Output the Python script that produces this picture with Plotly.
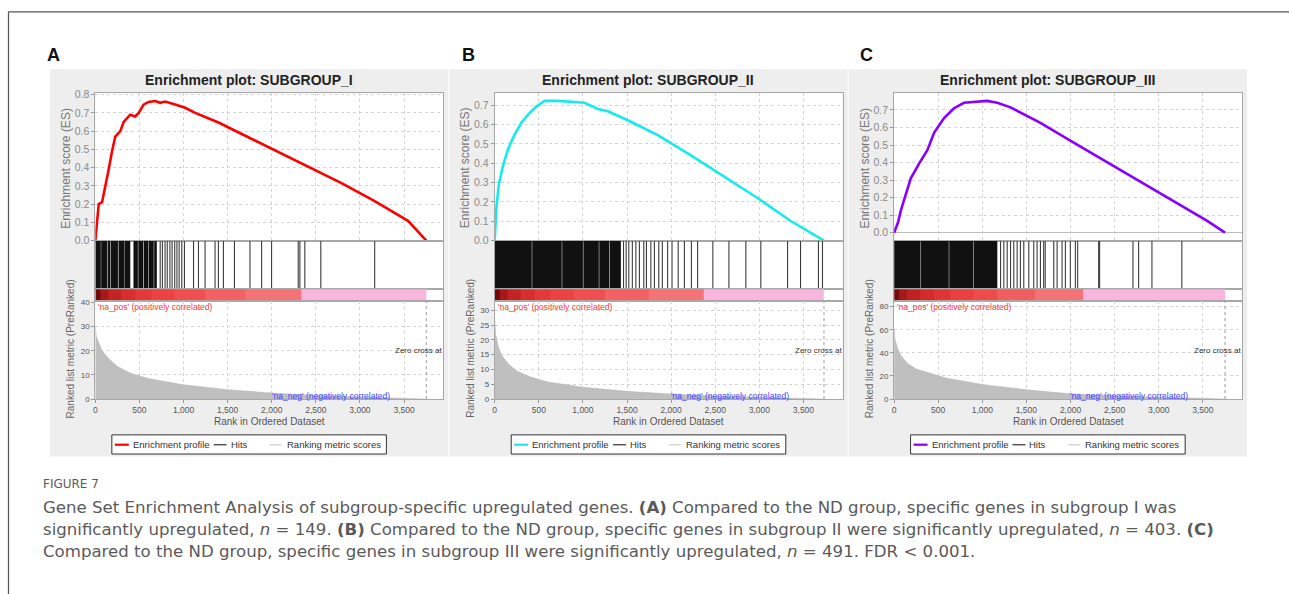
import plotly.graph_objects as go

W, H = 1289, 594

# ---------------- data ----------------
panel_letters = ["A", "B", "C"]
panel_titles = ["Enrichment plot: SUBGROUP_I",
                "Enrichment plot: SUBGROUP_II",
                "Enrichment plot: SUBGROUP_III"]

# running enrichment score
es_rank_A = [0, 19, 38, 76, 113, 151, 189, 226, 283, 321, 396, 452, 491, 547, 604,
             679, 736, 792, 905, 1018, 1131, 1396, 1659, 2036, 2414, 2791, 3167, 3545, 3752]
es_A = [0.0, 0.10, 0.20, 0.21, 0.31, 0.39, 0.49, 0.57, 0.60, 0.65, 0.69, 0.68, 0.70, 0.745,
        0.76, 0.765, 0.755, 0.762, 0.746, 0.728, 0.70, 0.647, 0.584, 0.494, 0.405, 0.315,
        0.216, 0.108, 0.0]

es_rank_B = [0, 19, 45, 95, 151, 226, 302, 378, 472, 566, 717, 905, 1018, 1170, 1283,
             1509, 1848, 2225, 2602, 2979, 3356, 3733]
es_B = [0.0, 0.169, 0.288, 0.389, 0.473, 0.549, 0.609, 0.651, 0.693, 0.722, 0.722, 0.714,
        0.712, 0.680, 0.668, 0.622, 0.545, 0.44, 0.33, 0.22, 0.101, 0.0]

es_rank_C = [0, 45, 75, 132, 189, 283, 377, 453, 566, 679, 792, 1056, 1170, 1320, 1659,
             2036, 2414, 2791, 3167, 3545, 3752]
es_C = [0.0, 0.059, 0.124, 0.217, 0.31, 0.394, 0.47, 0.57, 0.654, 0.71, 0.741, 0.752,
        0.741, 0.715, 0.626, 0.514, 0.403, 0.291, 0.18, 0.069, 0.0]

# ranked list metric
metric_rank = [0, 10, 38, 75, 150, 250, 400, 600, 1000, 1500, 2000, 2500, 3000, 3500, 3750]
metric_A = [30, 26, 23.5, 20, 16.8, 13.5, 10.7, 8.5, 5.9, 3.9, 2.5, 1.5, 0.9, 0.4, 0]
metric_B = [27, 22, 18, 15, 12, 9.5, 7.5, 5.8, 4.0, 2.6, 1.7, 1.0, 0.6, 0.25, 0]
metric_C = [61, 52, 44, 38, 31, 26, 22.6, 18, 12.7, 8.0, 4.5, 2.8, 1.5, 0.6, 0]

# hits: dense runs (start, end) and single hit ranks
hit_runs_A = [[0, 62], [66, 132], [138, 166], [172, 256], [262, 332], [336, 396],
              [432, 482], [487, 542], [548, 602], [607, 662], [667, 697]]
hit_single_A = [735, 760, 790, 815, 845, 870, 900, 925, 950, 980, 1010, 1113, 1169,
                1244, 1357, 1395, 1452, 1577, 1753, 1885, 1998, 2300, 2319, 2375, 2556, 3167]

hit_runs_B = [[0, 420], [425, 760], [765, 1000], [1005, 1180], [1185, 1300], [1305, 1430]]
hit_single_B = [1460, 1490, 1520, 1560, 1600, 1640, 1690, 1720, 1770, 1810, 1860, 1900,
                1960, 2010, 2080, 2150, 2230, 2300, 2473, 2655, 2847, 3017, 3320, 3467,
                3670, 3716]

hit_runs_C = [[0, 300], [305, 620], [625, 900], [905, 1170]]
hit_single_C = [1207, 1244, 1282, 1320, 1357, 1395, 1432, 1470, 1527, 1583, 1621, 1659,
                1696, 1713, 1810, 1848, 1904, 1942, 1998, 2055, 2081, 2319, 2330, 2708,
                2772, 2923, 3262]

# colour band: segment edges (rank) and shade level (1 = strongest positive)
band_edges_A = [0, 60, 150, 300, 450, 640, 900, 1244, 1696, 2330, 3752]
band_level_A = [1.0, 0.9, 0.78, 0.66, 0.56, 0.48, 0.40, 0.30, 0.20, 0.0]
band_edges_B = [0, 60, 150, 300, 450, 640, 900, 1250, 1750, 2370, 3733]
band_level_B = [1.0, 0.9, 0.78, 0.66, 0.56, 0.48, 0.40, 0.30, 0.20, 0.0]
band_edges_C = [0, 60, 150, 300, 450, 640, 900, 1170, 1600, 2142, 3752]
band_level_C = [1.0, 0.9, 0.8, 0.7, 0.6, 0.5, 0.42, 0.32, 0.20, 0.0]

zero_cross = [3752, 3733, 3752]

x_ticks = [0, 500, 1000, 1500, 2000, 2500, 3000, 3500]
es_ticks_A = [0.0, 0.1, 0.2, 0.3, 0.4, 0.5, 0.6, 0.7, 0.8]
es_ticks_B = [0.0, 0.1, 0.2, 0.3, 0.4, 0.5, 0.6, 0.7]
es_ticks_C = [0.0, 0.1, 0.2, 0.3, 0.4, 0.5, 0.6, 0.7]
metric_ticks_A = [0, 10, 20, 30, 40]
metric_ticks_B = [0, 5, 10, 15, 20, 25, 30]
metric_ticks_C = [0, 20, 40, 60, 80]

legend_labels = ["Enrichment profile", "Hits", "Ranking metric scores"]

caption_head = "FIGURE 7"
caption_lines = [
    "Gene Set Enrichment Analysis of subgroup-specific upregulated genes. <b>(A)</b> Compared to the ND group, specific genes in subgroup I was",
    "significantly upregulated, <i>n</i> = 149. <b>(B)</b> Compared to the ND group, specific genes in subgroup II were significantly upregulated, <i>n</i> = 403. <b>(C)</b>",
    "Compared to the ND group, specific genes in subgroup III were significantly upregulated, <i>n</i> = 491. FDR &lt; 0.001.",
]

# ---------------- styling ----------------
FONT = "Liberation Sans, Arial, sans-serif"
CAP_FONT = "DejaVu Sans, sans-serif"
line_colors = ["#ff0000", "#14ecec", "#8a00ff"]
es_ranges = [[0, 0.807], [0, 0.761], [-0.045, 0.795]]
metric_ranges = [[0, 40.4], [0, 33], [0, 84.5]]
X_RANGE = [0, 3945]
FRAME = "#a8a8a8"
GRID = "#d4d4d4"
band_scale = [[0.0, "#f8b6de"], [0.1, "#f8b6de"], [0.15, "#f67c80"], [0.45, "#ef4545"],
              [0.7, "#d62a2a"], [0.9, "#a81818"], [1.0, "#700a0a"]]

panels = [
    dict(es_rank=es_rank_A, es=es_A, metric=metric_A, runs=hit_runs_A, single=hit_single_A,
         edges=band_edges_A, level=band_level_A, es_ticks=es_ticks_A, m_ticks=metric_ticks_A),
    dict(es_rank=es_rank_B, es=es_B, metric=metric_B, runs=hit_runs_B, single=hit_single_B,
         edges=band_edges_B, level=band_level_B, es_ticks=es_ticks_B, m_ticks=metric_ticks_B),
    dict(es_rank=es_rank_C, es=es_C, metric=metric_C, runs=hit_runs_C, single=hit_single_C,
         edges=band_edges_C, level=band_level_C, es_ticks=es_ticks_C, m_ticks=metric_ticks_C),
]
letter_x = [43, 459, 857]


def fx(x):
    return x / W


def fy(y):
    return 1 - y / H


rows = [(90, 240), (240, 289.5), (289.5, 302), (302, 401.5)]

fig = go.Figure()
layout = dict(width=W, height=H, margin=dict(l=0, r=0, t=0, b=0),
              paper_bgcolor="white", plot_bgcolor="rgba(0,0,0,0)",
              showlegend=False, barmode="overlay", font=dict(family=FONT))
shapes = []
annotations = []

# figure frame
shapes.append(dict(type="line", xref="paper", yref="paper", x0=fx(6.5), x1=fx(1300),
                   y0=fy(7), y1=fy(7), line=dict(color="#555555", width=1.2)))
shapes.append(dict(type="line", xref="paper", yref="paper", x0=fx(6.5), x1=fx(6.5),
                   y0=fy(7), y1=fy(600), line=dict(color="#555555", width=1.2)))

for k, p in enumerate(panels):
    ox = 400 * k
    # panel background and white plotting area
    shapes.append(dict(type="rect", xref="paper", yref="paper", layer="below",
                       x0=fx(48 + ox), x1=fx(447 + ox), y0=fy(460), y1=fy(65.5),
                       fillcolor="#eeeeee", line=dict(width=0)))
    shapes.append(dict(type="rect", xref="paper", yref="paper", layer="below",
                       x0=fx(93.5 + ox), x1=fx(442 + ox), y0=fy(401.5), y1=fy(90),
                       fillcolor="white", line=dict(width=0)))
    xdom = [fx(93.5 + ox), fx(442 + ox)]
    names = []
    for j in range(4):
        n = 4 * k + j + 1
        sfx = "" if n == 1 else str(n)
        names.append(("x" + sfx, "y" + sfx))
        xa = dict(domain=xdom, range=X_RANGE, anchor="y" + sfx, showline=True, mirror=True,
                  linecolor=FRAME, linewidth=1, zeroline=False, tickvals=x_ticks,
                  fixedrange=True)
        ya = dict(domain=[fy(rows[j][1]), fy(rows[j][0])], anchor="x" + sfx, showline=True,
                  mirror=True, linecolor=FRAME, linewidth=1, zeroline=False, fixedrange=True)
        if j == 0:
            xa.update(showgrid=True, gridcolor=GRID, griddash="dot", showticklabels=False,
                      ticks="")
            ya.update(range=es_ranges[k], tickvals=p["es_ticks"], tickformat=".1f",
                      showgrid=True, gridcolor=GRID, griddash="dot", ticks="outside",
                      ticklen=3, tickcolor="#999999",
                      tickfont=dict(size=10.5, color="#8a8a8a", family=FONT))
            if k == 2:
                ya.update(zeroline=True, zerolinecolor="#bdbdbd", zerolinewidth=1)
        elif j in (1, 2):
            xa.update(showgrid=False, showticklabels=False, ticks="")
            ya.update(range=[0, 1], showgrid=False, showticklabels=False, ticks="")
        else:
            xa.update(showgrid=True, gridcolor=GRID, griddash="dot", ticks="outside",
                      ticklen=3, tickcolor="#999999", tickformat=",",
                      tickfont=dict(size=8.5, color="#555555", family=FONT))
            ya.update(range=metric_ranges[k], tickvals=p["m_ticks"], showgrid=True,
                      gridcolor=GRID, griddash="dot", ticks="outside", ticklen=3,
                      tickcolor="#999999",
                      tickfont=dict(size=8, color="#555555", family=FONT))
        layout["xaxis" + sfx] = xa
        layout["yaxis" + sfx] = ya

    (xe, ye), (xh, yh), (xb, yb), (xr, yr) = names

    # enrichment profile
    fig.add_trace(go.Scatter(x=p["es_rank"], y=p["es"], mode="lines", xaxis=xe, yaxis=ye,
                             line=dict(color=line_colors[k], width=2.6),
                             name=legend_labels[0], hoverinfo="skip"))
    # hits
    runs = p["runs"]
    fig.add_trace(go.Bar(x=[(a + b) / 2 for a, b in runs], width=[b - a for a, b in runs],
                         y=[1] * len(runs), base=0, xaxis=xh, yaxis=yh,
                         marker=dict(color="#111111", line=dict(width=0)),
                         name=legend_labels[1], hoverinfo="skip"))
    hx, hy = [], []
    for r in p["single"]:
        hx += [r, r, None]
        hy += [0, 1, None]
    fig.add_trace(go.Scatter(x=hx, y=hy, mode="lines", xaxis=xh, yaxis=yh,
                             line=dict(color="#3c3c3c", width=1.1),
                             name=legend_labels[1], hoverinfo="skip"))
    # colour band
    fig.add_trace(go.Heatmap(x=p["edges"], y=[0, 1], z=[p["level"]], zmin=0, zmax=1,
                             colorscale=band_scale, showscale=False, xaxis=xb, yaxis=yb,
                             hoverinfo="skip"))
    # ranked list metric
    fig.add_trace(go.Scatter(x=metric_rank, y=p["metric"], mode="lines", fill="tozeroy",
                             fillcolor="#bfbfbf", line=dict(color="#b5b5b5", width=0.5),
                             xaxis=xr, yaxis=yr, name=legend_labels[2], hoverinfo="skip"))
    fig.add_trace(go.Scatter(x=[zero_cross[k], zero_cross[k]], y=metric_ranges[k],
                             mode="lines", xaxis=xr, yaxis=yr,
                             line=dict(color="#9a9a9a", width=1, dash="dot"),
                             hoverinfo="skip"))

    # texts
    annotations.append(dict(text="<b>%s</b>" % panel_letters[k], xref="paper", yref="paper",
                            x=fx(letter_x[k]), y=fy(51), xanchor="left", yanchor="middle",
                            showarrow=False,
                            font=dict(size=18, color="#111111", family=FONT)))
    annotations.append(dict(text="<b>%s</b>" % panel_titles[k], xref="paper", yref="paper",
                            x=fx(247.5 + ox), y=fy(76), xanchor="center", yanchor="middle",
                            showarrow=False, font=dict(size=14, color="#222222", family=FONT)))
    annotations.append(dict(text="Enrichment score (ES)", xref="paper", yref="paper",
                            x=fx(64 + ox), y=fy(166), textangle=-90, showarrow=False,
                            xanchor="center", yanchor="middle",
                            font=dict(size=12, color="#777777", family=FONT)))
    annotations.append(dict(text="Ranked list metric (PreRanked)", xref="paper", yref="paper",
                            x=fx(69 + ox), y=fy(350), textangle=-90, showarrow=False,
                            xanchor="center", yanchor="middle",
                            font=dict(size=10, color="#666666", family=FONT)))
    annotations.append(dict(text="Rank in Ordered Dataset", xref="paper", yref="paper",
                            x=fx(268 + ox), y=fy(424.5), showarrow=False, xanchor="center",
                            yanchor="middle", font=dict(size=10, color="#555555", family=FONT)))
    annotations.append(dict(text="'na_pos' (positively correlated)", xref=xr,
                            yref=yr + " domain", x=10, y=1, xanchor="left", yanchor="top",
                            showarrow=False, yshift=1,
                            font=dict(size=8.5, color="#ff3333", family=FONT)))
    annotations.append(dict(text="'na_neg' (negatively correlated)", xref=xr,
                            yref=yr + " domain", x=1975, y=0, xanchor="left", yanchor="bottom",
                            showarrow=False, yshift=-4,
                            font=dict(size=8.5, color="#4646ff", family=FONT)))
    annotations.append(dict(text="Zero cross at", xref=xr, yref="paper", x=3380, y=fy(352),
                            xanchor="left", yanchor="middle", showarrow=False,
                            font=dict(size=8, color="#333333", family=FONT)))

    # legend box
    shapes.append(dict(type="rect", xref="paper", yref="paper", x0=fx(110 + ox),
                       x1=fx(385 + ox), y0=fy(457.5), y1=fy(438),
                       fillcolor="white", line=dict(color="#333333", width=1)))
    glyphs = [(113, 127, line_colors[k], 2.2, 129),
              (212, 225, "#555555", 1.5, 227),
              (268, 280, "#d6d6d6", 1.5, 283)]
    for (g0, g1, gc, gw, tx), lab in zip(glyphs, legend_labels):
        shapes.append(dict(type="line", xref="paper", yref="paper", x0=fx(g0 + ox),
                           x1=fx(g1 + ox), y0=fy(448), y1=fy(448),
                           line=dict(color=gc, width=gw)))
        annotations.append(dict(text=lab, xref="paper", yref="paper", x=fx(tx + ox),
                                y=fy(448), xanchor="left", yanchor="middle", showarrow=False,
                                font=dict(size=9.5, color="#333333", family=FONT)))

# caption
annotations.append(dict(text=caption_head, xref="paper", yref="paper", x=fx(39), y=fy(488),
                        xanchor="left", yanchor="middle", showarrow=False,
                        font=dict(size=12, color="#5a5a5a", family=CAP_FONT)))
for i, line in enumerate(caption_lines):
    annotations.append(dict(text=line, xref="paper", yref="paper", x=fx(39),
                            y=fy(511.5 + 22.5 * i), xanchor="left", yanchor="middle",
                            showarrow=False,
                            font=dict(size=16.6, color="#5a5a5a", family=CAP_FONT)))

layout["shapes"] = shapes
layout["annotations"] = annotations
fig.update_layout(**layout)
fig.write_html("out.html", config=dict(displayModeBar=False),
               post_script="document.body.style.margin='0px';document.body.style.overflow='hidden';")
